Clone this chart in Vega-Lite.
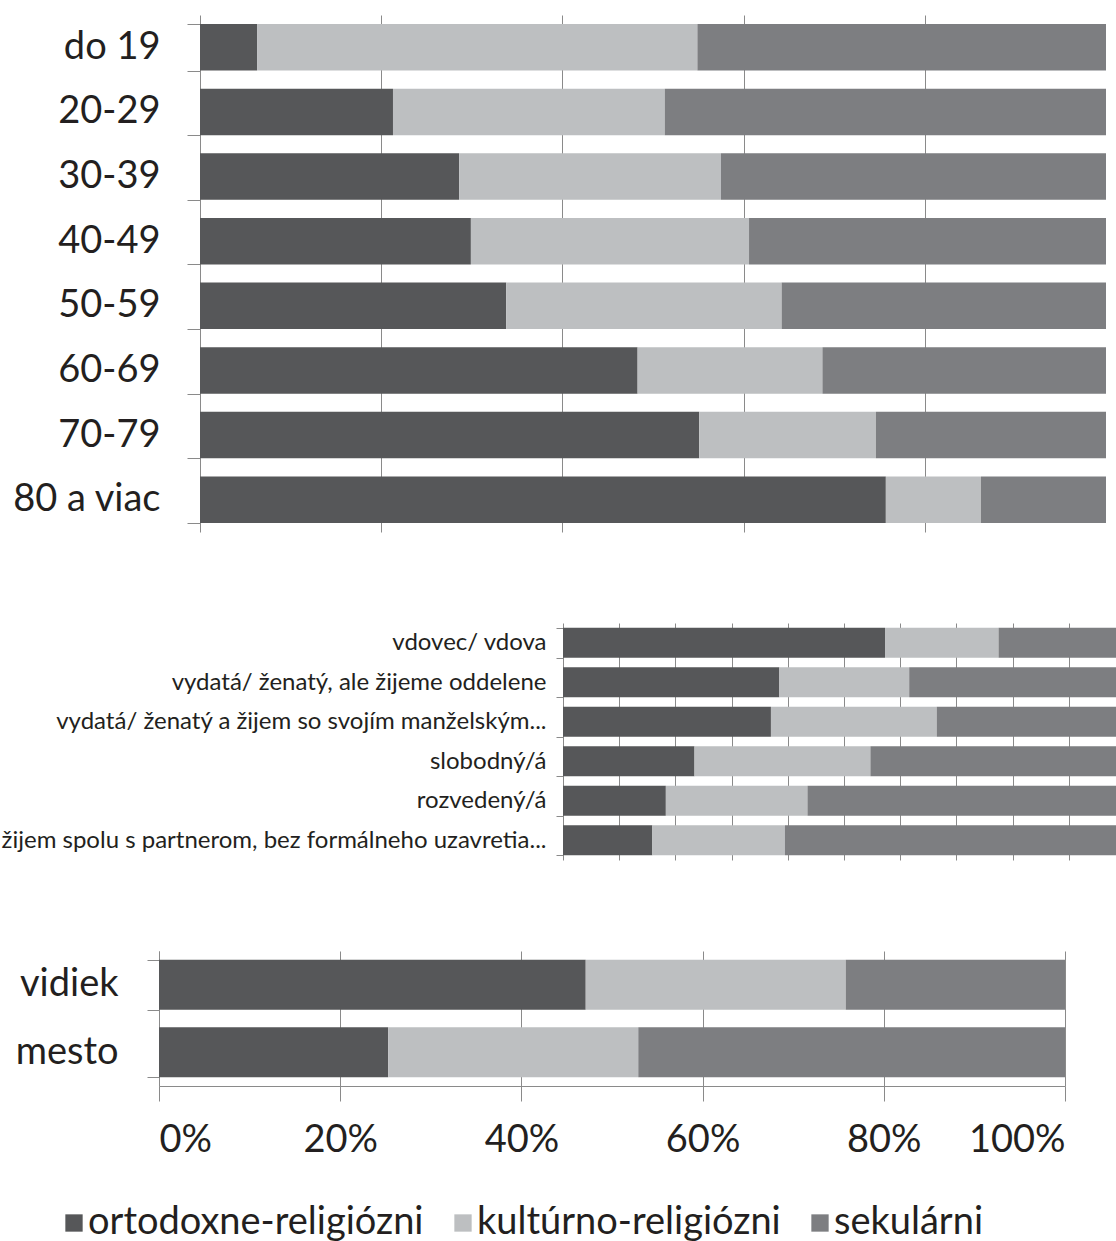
{
  "$schema": "https://vega.github.io/schema/vega-lite/v6.json",
  "padding": {"left": 1, "top": -4, "right": 0, "bottom": 0},
  "background": "white",
  "spacing": 91,
  "bounds": "flush",
  "config": {
    "font": "Lato",
    "view": {"stroke": null},
    "axis": {"domainColor": "#8a8a8a", "tickColor": "#8a8a8a", "gridColor": "#8a8a8a", "labelColor": "#231f20", "labelFont": "Lato", "labelLimit": 0}
  },
  "datasets": {
    "vek": [
      {"kat": "do 19", "typ": "ortodoxne-religiózni", "val": 6.3},
      {"kat": "do 19", "typ": "kultúrno-religiózni", "val": 48.6},
      {"kat": "do 19", "typ": "sekulárni", "val": 45.1},
      {"kat": "20-29", "typ": "ortodoxne-religiózni", "val": 21.3},
      {"kat": "20-29", "typ": "kultúrno-religiózni", "val": 30.0},
      {"kat": "20-29", "typ": "sekulárni", "val": 48.7},
      {"kat": "30-39", "typ": "ortodoxne-religiózni", "val": 28.6},
      {"kat": "30-39", "typ": "kultúrno-religiózni", "val": 28.9},
      {"kat": "30-39", "typ": "sekulárni", "val": 42.5},
      {"kat": "40-49", "typ": "ortodoxne-religiózni", "val": 29.9},
      {"kat": "40-49", "typ": "kultúrno-religiózni", "val": 30.7},
      {"kat": "40-49", "typ": "sekulárni", "val": 39.4},
      {"kat": "50-59", "typ": "ortodoxne-religiózni", "val": 33.8},
      {"kat": "50-59", "typ": "kultúrno-religiózni", "val": 30.4},
      {"kat": "50-59", "typ": "sekulárni", "val": 35.8},
      {"kat": "60-69", "typ": "ortodoxne-religiózni", "val": 48.3},
      {"kat": "60-69", "typ": "kultúrno-religiózni", "val": 20.4},
      {"kat": "60-69", "typ": "sekulárni", "val": 31.3},
      {"kat": "70-79", "typ": "ortodoxne-religiózni", "val": 55.1},
      {"kat": "70-79", "typ": "kultúrno-religiózni", "val": 19.5},
      {"kat": "70-79", "typ": "sekulárni", "val": 25.4},
      {"kat": "80 a viac", "typ": "ortodoxne-religiózni", "val": 75.7},
      {"kat": "80 a viac", "typ": "kultúrno-religiózni", "val": 10.5},
      {"kat": "80 a viac", "typ": "sekulárni", "val": 13.8}
    ],
    "stav": [
      {"kat": "vdovec/ vdova", "typ": "ortodoxne-religiózni", "val": 57.3},
      {"kat": "vdovec/ vdova", "typ": "kultúrno-religiózni", "val": 20.2},
      {"kat": "vdovec/ vdova", "typ": "sekulárni", "val": 22.5},
      {"kat": "vydatá/ ženatý, ale žijeme oddelene", "typ": "ortodoxne-religiózni", "val": 38.5},
      {"kat": "vydatá/ ženatý, ale žijeme oddelene", "typ": "kultúrno-religiózni", "val": 23.1},
      {"kat": "vydatá/ ženatý, ale žijeme oddelene", "typ": "sekulárni", "val": 38.4},
      {"kat": "vydatá/ ženatý a žijem so svojím manželským...", "typ": "ortodoxne-religiózni", "val": 37.0},
      {"kat": "vydatá/ ženatý a žijem so svojím manželským...", "typ": "kultúrno-religiózni", "val": 29.5},
      {"kat": "vydatá/ ženatý a žijem so svojím manželským...", "typ": "sekulárni", "val": 33.5},
      {"kat": "slobodný/á", "typ": "ortodoxne-religiózni", "val": 23.4},
      {"kat": "slobodný/á", "typ": "kultúrno-religiózni", "val": 31.3},
      {"kat": "slobodný/á", "typ": "sekulárni", "val": 45.3},
      {"kat": "rozvedený/á", "typ": "ortodoxne-religiózni", "val": 18.3},
      {"kat": "rozvedený/á", "typ": "kultúrno-religiózni", "val": 25.2},
      {"kat": "rozvedený/á", "typ": "sekulárni", "val": 56.5},
      {"kat": "žijem spolu s partnerom, bez formálneho uzavretia...", "typ": "ortodoxne-religiózni", "val": 15.9},
      {"kat": "žijem spolu s partnerom, bez formálneho uzavretia...", "typ": "kultúrno-religiózni", "val": 23.6},
      {"kat": "žijem spolu s partnerom, bez formálneho uzavretia...", "typ": "sekulárni", "val": 60.5}
    ],
    "sidlo": [
      {"kat": "vidiek", "typ": "ortodoxne-religiózni", "val": 47.1},
      {"kat": "vidiek", "typ": "kultúrno-religiózni", "val": 28.7},
      {"kat": "vidiek", "typ": "sekulárni", "val": 24.2},
      {"kat": "mesto", "typ": "ortodoxne-religiózni", "val": 25.3},
      {"kat": "mesto", "typ": "kultúrno-religiózni", "val": 27.6},
      {"kat": "mesto", "typ": "sekulárni", "val": 47.1}
    ]
  },
  "vconcat": [
    {
      "width": 947,
      "height": 517,
      "data": {"name": "vek"},
      "transform": [{"window": [{"op": "row_number", "as": "poradie"}]}],
      "mark": {"type": "bar"},
      "encoding": {
        "y": {"field": "kat", "type": "nominal", "sort": null,
              "scale": {"paddingInner": 0.28, "paddingOuter": 0.14},
              "axis": {"title": null, "offset": -41, "tickBand": "extent", "tickSize": 13, "labelPadding": 27, "labelFontSize": 38}},
        "x": {"field": "val", "type": "quantitative", "stack": "normalize",
              "scale": {"domain": [0, 1], "nice": false, "range": [41, 947]},
              "axis": {"title": null, "labels": false, "ticks": false, "domain": false, "grid": true, "values": [0.2, 0.4, 0.6, 0.8]}},
        "order": {"field": "poradie", "type": "quantitative"},
        "color": {"field": "typ", "type": "nominal",
                  "scale": {"domain": ["ortodoxne-religiózni", "kultúrno-religiózni", "sekulárni"], "range": ["#565759", "#bdbfc1", "#7d7e81"]},
                  "legend": {"title": null, "orient": "none", "legendX": -104, "legendY": 1189, "direction": "horizontal", "symbolType": "square", "symbolSize": 300, "symbolStrokeWidth": 0, "labelFontSize": 38, "labelColor": "#231f20", "columnPadding": 20, "labelOffset": -5, "labelLimit": 0}}
      }
    },
    {
      "width": 957,
      "height": 237,
      "data": {"name": "stav"},
      "transform": [{"window": [{"op": "row_number", "as": "poradie"}]}],
      "mark": {"type": "bar", "clip": true},
      "encoding": {
        "y": {"field": "kat", "type": "nominal", "sort": null,
              "scale": {"paddingInner": 0.24, "paddingOuter": 0.12},
              "axis": {"title": null, "offset": -404, "tickBand": "extent", "tickSize": 7, "labelPadding": 10, "labelFontSize": 24}},
        "x": {"field": "val", "type": "quantitative", "stack": "normalize",
              "scale": {"domain": [0, 1], "nice": false, "range": [404, 966]},
              "axis": {"title": null, "labels": false, "ticks": false, "domain": false, "grid": true, "values": [0.1, 0.2, 0.3, 0.4, 0.5, 0.6, 0.7, 0.8, 0.9]}},
        "order": {"field": "poradie", "type": "quantitative"},
        "color": {"field": "typ", "type": "nominal",
                  "scale": {"domain": ["ortodoxne-religiózni", "kultúrno-religiózni", "sekulárni"], "range": ["#565759", "#bdbfc1", "#7d7e81"]},
                  "legend": {"title": null, "orient": "none", "legendX": -104, "legendY": 1189, "direction": "horizontal", "symbolType": "square", "symbolSize": 300, "symbolStrokeWidth": 0, "labelFontSize": 38, "labelColor": "#231f20", "columnPadding": 20, "labelOffset": -5, "labelLimit": 0}}
      }
    },
    {
      "width": 906,
      "height": 135,
      "data": {"name": "sidlo"},
      "transform": [{"window": [{"op": "row_number", "as": "poradie"}]}],
      "mark": {"type": "bar"},
      "encoding": {
        "y": {"field": "kat", "type": "nominal", "sort": null,
              "scale": {"paddingInner": 0.26, "paddingOuter": 0.13},
              "axis": {"title": null, "tickBand": "extent", "tickSize": 12, "labelPadding": 29, "labelFontSize": 38}},
        "x": {"field": "val", "type": "quantitative", "stack": "normalize",
              "scale": {"domain": [0, 1], "nice": false},
              "axis": {"title": null, "format": "%", "grid": true, "values": [0, 0.2, 0.4, 0.6, 0.8, 1], "tickSize": 15, "labelPadding": 20, "labelFontSize": 38}},
        "order": {"field": "poradie", "type": "quantitative"},
        "color": {"field": "typ", "type": "nominal",
                  "scale": {"domain": ["ortodoxne-religiózni", "kultúrno-religiózni", "sekulárni"], "range": ["#565759", "#bdbfc1", "#7d7e81"]},
                  "legend": {"title": null, "orient": "none", "legendX": -104, "legendY": 1189, "direction": "horizontal", "symbolType": "square", "symbolSize": 300, "symbolStrokeWidth": 0, "labelFontSize": 38, "labelColor": "#231f20", "columnPadding": 20, "labelOffset": -5, "labelLimit": 0}}
      }
    }
  ]
}
